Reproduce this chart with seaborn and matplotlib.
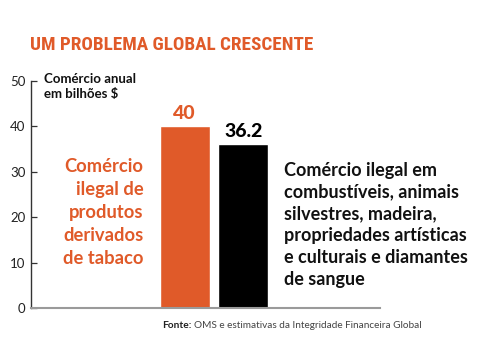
import matplotlib
matplotlib.use("Agg")
import matplotlib.pyplot as plt
import seaborn as sns
import pandas as pd

# dados do gráfico
categorias = ["Produtos de tabaco", "Outros ilícitos"]
valores = [40, 36.2]
rotulos_valor = ["40", "36.2"]
cores = ["#E05A29", "#000000"]
y_ticks = [0, 10, 20, 30, 40, 50]

titulo = "UM PROBLEMA GLOBAL CRESCENTE"
unidade = "Comércio anual\nem bilhões $"
texto_tabaco = "Comércio\nilegal de\nprodutos\nderivados\nde tabaco"
texto_outros = ("Comércio ilegal em\ncombustíveis, animais\nsilvestres, madeira,\n"
                "propriedades artísticas\ne culturais e diamantes\nde sangue")
fonte_rotulo = "Fonte:"
fonte_texto = "OMS e estimativas da Integridade Financeira Global"

LARANJA = "#E05A29"

sns.set_theme(style="white")
plt.rcParams["font.family"] = ["Lato", "DejaVu Sans"]

df = pd.DataFrame({"categoria": categorias, "valor": valores})

fig = plt.figure(figsize=(4.82, 3.62), dpi=100)
ax = fig.add_axes([0.0643, 0.149, 0.724, 0.627])

sns.barplot(data=df, x="categoria", y="valor", hue="categoria",
            palette=cores, width=0.855, legend=False, ax=ax, saturation=1)

ax.set_xlim(-2.63, 3.34)
ax.set_ylim(0, 50)
ax.set_yticks(y_ticks)
ax.set_xticks([])
ax.set_xlabel("")
ax.set_ylabel("")
ax.tick_params(axis="y", direction="in", length=4.5, width=0.9, color="#333333",
               labelsize=9.5, labelcolor="#222222", pad=4, left=True)

sns.despine(ax=ax, top=True, right=True)
ax.spines["left"].set_color("#333333")
ax.spines["left"].set_linewidth(1.0)
ax.spines["bottom"].set_color("#9a9a9a")
ax.spines["bottom"].set_linewidth(1.5)

# rótulos de valor acima das barras
for cont, rot, cor in zip(ax.containers, rotulos_valor, cores):
    ax.bar_label(cont, labels=[rot], padding=3, color=cor,
                 fontsize=14, fontweight="black")

# textos descritivos
ax.text(0.036, 1.035, unidade, transform=ax.transAxes, ha="left", va="top",
        fontsize=9.5, fontweight="bold", color="#111111", linespacing=1.25)
ax.text(0.323, 0.66, texto_tabaco, transform=ax.transAxes, ha="right", va="top",
        fontsize=13.2, fontweight="bold", color=LARANJA, linespacing=1.42)
ax.text(0.725, 0.645, texto_outros, transform=ax.transAxes, ha="left", va="top",
        fontsize=13, fontweight="bold", color="#111111", linespacing=1.345)

fig.text(0.062, 0.876, titulo, ha="left", va="center", fontsize=13.8,
         fontweight="bold", color=LARANJA,
         family=["Roboto Condensed", "DejaVu Sans"], fontstretch="condensed")

t_fonte = fig.text(0.336, 0.102, fonte_rotulo, ha="left", va="center",
                   fontsize=7.3, fontweight="bold", color="#222222")
ax.annotate(fonte_texto, xy=(1, 0.5), xycoords=t_fonte, xytext=(2, 0),
            textcoords="offset points", ha="left", va="center",
            fontsize=7.2, color="#444444")

fig.savefig("out.png", dpi=100, facecolor="white")
